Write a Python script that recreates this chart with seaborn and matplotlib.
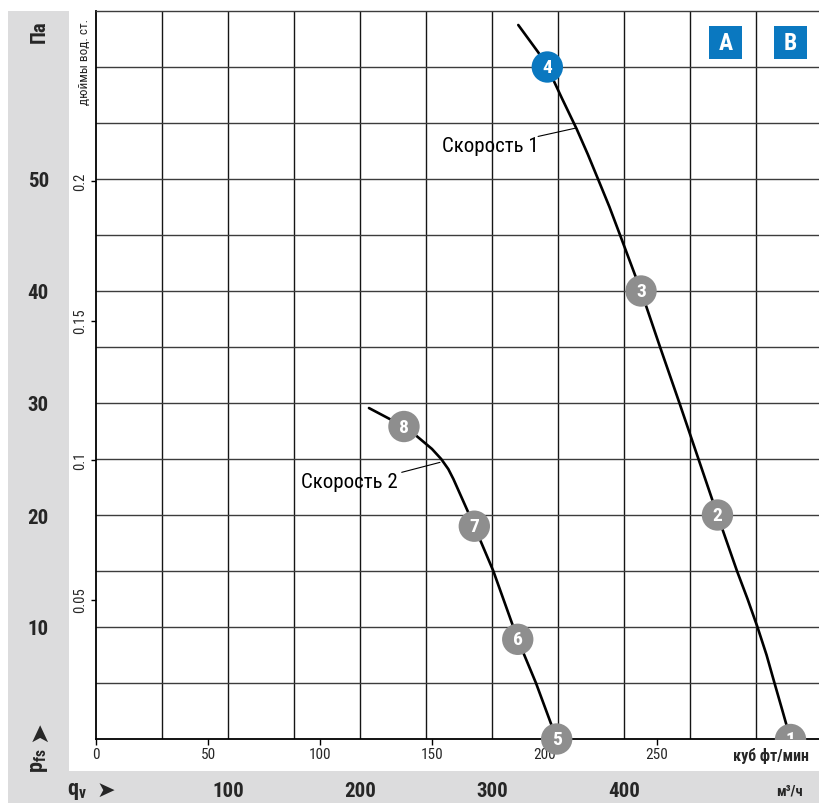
import matplotlib
matplotlib.use("Agg")
import numpy as np
import pandas as pd
import seaborn as sns
import matplotlib.pyplot as plt
from matplotlib import font_manager
from matplotlib.patches import Rectangle

# ---- data -------------------------------------------------------------
# flow in m³/h, static pressure in Pa
SPEED1_Q = [319.9, 335.1, 341.9, 353.0, 364.2, 372.6, 380.3, 389.0, 397.0,
            412.9, 427.3, 442.0, 456.4, 470.8, 485.6, 493.6, 501.1, 508.0,
            514.0, 520.1, 526.1]
SPEED1_P = [63.75, 61.3, 60.0, 57.2, 54.45, 52.2, 50.0, 47.5, 45.0,
            40.0, 35.0, 30.0, 25.0, 20.0, 15.0, 12.5, 10.0, 7.5,
            5.0, 2.5, 0.0]

SPEED2_Q = [206.8, 233.3, 242.9, 254.5, 261.5, 266.9, 270.8, 274.2, 281.0,
            286.6, 301.0, 319.5, 333.3, 349.0]
SPEED2_P = [29.55, 27.9, 27.05, 25.9, 25.0, 24.1, 23.2, 22.3, 20.5,
            19.0, 15.0, 8.9, 5.0, 0.0]

# numbered operating points
POINT_NO = [1, 2, 3, 4, 5, 6, 7, 8]
POINT_Q = [526.1, 470.8, 412.9, 341.9, 349.0, 319.5, 286.6, 233.3]
POINT_P = [0.0, 20.0, 40.0, 60.0, 0.0, 8.9, 19.0, 27.9]
POINT_KIND = ["grey", "grey", "grey", "blue", "grey", "grey", "grey", "grey"]

M3H_TICKS = [100, 200, 300, 400]
PA_TICKS = [10, 20, 30, 40, 50]
CFM_TICKS = [0, 50, 100, 150, 200, 250]
INWC_TICKS = [0.05, 0.1, 0.15, 0.2]
INWC_LABELS = ["0.05", "0.1", "0.15", "0.2"]

CURVE_LABELS = ["Скорость 1", "Скорость 2"]
CFM_TO_M3H = 1.699
PA_PER_INWC = 249.089

# ---- style ------------------------------------------------------------
sns.set_theme(style="white")
names = {f.name for f in font_manager.fontManager.ttflist}
base = next((n for n in ["Liberation Sans Narrow", "Roboto Condensed",
                         "Roboto", "DejaVu Sans"] if n in names), "DejaVu Sans")
plt.rcParams["font.family"] = [base, "DejaVu Sans"]
plt.rcParams["mathtext.fontset"] = "custom"
plt.rcParams["mathtext.rm"] = base
plt.rcParams["mathtext.bf"] = base + ":bold"

GREY_BAND = "#dcdcdd"
GREY_PT = "#8e8e8e"
BLUE = "#0a78c0"
GRID_V = "#151515"
GRID_H = "#3c3c3c"

W, H = 819, 804
fig = plt.figure(figsize=(W / 100, H / 100), dpi=100)
fig.patch.set_facecolor("white")


def fx(px):
    return px / W


def fy(py):
    return 1 - py / H


# grey scale bands
fig.add_artist(Rectangle((fx(8), fy(772)), (69 - 8) / W, (772 - 12) / H,
                         transform=fig.transFigure, facecolor=GREY_BAND,
                         edgecolor="none", zorder=0))
fig.add_artist(Rectangle((fx(8), 0), (W - 8) / W, 32 / H,
                         transform=fig.transFigure, facecolor=GREY_BAND,
                         edgecolor="none", zorder=0))

ax = fig.add_axes([fx(96), fy(740), (W - 96) / W, (740 - 12) / H])
ax.set_facecolor("white")
Q_MAX = (W - 96) / 1.32
ax.set_xlim(0, Q_MAX)
ax.set_ylim(0, 65)

# grid
ax.set_xticks(M3H_TICKS)
ax.set_xticks(np.arange(50, Q_MAX, 50), minor=True)
ax.set_yticks(PA_TICKS)
ax.set_yticks(np.arange(5, 65, 5), minor=True)
ax.grid(which="both", axis="x", color=GRID_V, lw=1.0)
ax.grid(which="both", axis="y", color=GRID_H, lw=1.0)
ax.set_axisbelow(True)
ax.tick_params(which="both", length=0)
ax.tick_params(axis="x", which="major", labelsize=15, pad=30)
ax.tick_params(axis="y", which="major", labelsize=15, pad=41.5)
for lbl in ax.get_xticklabels() + ax.get_yticklabels():
    lbl.set_fontweight("bold")
for lbl in ax.get_yticklabels():
    lbl.set_horizontalalignment("center")

for side in ["left", "bottom"]:
    ax.spines[side].set_color("black")
    ax.spines[side].set_linewidth(1.3)
ax.spines["top"].set_color(GRID_H)
ax.spines["top"].set_linewidth(1.0)
ax.spines["right"].set_visible(False)

# secondary scales: cfm and inches of water
sx = ax.secondary_xaxis("bottom", functions=(lambda q: q / CFM_TO_M3H,
                                             lambda c: c * CFM_TO_M3H))
sx.set_xticks(CFM_TICKS)
sx.set_xticklabels([str(c) for c in CFM_TICKS])
sx.tick_params(length=4.3, width=1.0, color="black", pad=1.5, labelsize=11)
sx.spines["bottom"].set_visible(False)

sy = ax.secondary_yaxis("left", functions=(lambda p: p / PA_PER_INWC,
                                           lambda i: i * PA_PER_INWC))
sy.set_yticks(INWC_TICKS)
sy.set_yticklabels(INWC_LABELS, rotation=90, va="center")
sy.tick_params(length=3.6, width=1.0, color="black", pad=3, labelsize=10.5)
sy.spines["left"].set_visible(False)

# fan curves
s1 = pd.DataFrame({"q": SPEED1_Q, "p": SPEED1_P})
s2 = pd.DataFrame({"q": SPEED2_Q, "p": SPEED2_P})
for df in (s1, s2):
    line_ax = sns.lineplot(data=df, x="q", y="p", sort=False, estimator=None,
                           color="black", lw=1.9, ax=ax, zorder=5)
    line_ax.lines[-1].set_solid_joinstyle("round")

# operating points
pts = pd.DataFrame({"n": POINT_NO, "q": POINT_Q, "p": POINT_P,
                    "kind": POINT_KIND})
pal = {"grey": GREY_PT, "blue": BLUE}
sns.scatterplot(data=pts[pts.n != 1], x="q", y="p", hue="kind", palette=pal,
                s=510, linewidth=0, legend=False, ax=ax, zorder=10,
                clip_on=False)
sns.scatterplot(data=pts[pts.n == 1], x="q", y="p", hue="kind", palette=pal,
                s=510, linewidth=0, legend=False, ax=ax, zorder=10,
                clip_on=True)
for n, q, p in zip(pts.n, pts.q, pts.p):
    ax.text(q, p, str(n), ha="center", va="center", color="white",
            fontsize=14, fontweight="bold", zorder=11, clip_on=(n == 1))
ax.set_xlabel("")
ax.set_ylabel("")

# curve labels with leader lines
ax.text(298.5, 52.95, CURVE_LABELS[0], ha="center", va="center",
        fontsize=15, color="black", zorder=6)
ax.annotate("", xy=(363.6, 54.55), xytext=(334.9, 53.8),
            arrowprops=dict(arrowstyle="-", lw=0.8, color="black",
                            shrinkA=0, shrinkB=0), zorder=6)
ax.text(192.0, 22.95, CURVE_LABELS[1], ha="center", va="center",
        fontsize=15, color="black", zorder=6)
ax.annotate("", xy=(260.6, 24.7), xytext=(231.6, 23.81),
            arrowprops=dict(arrowstyle="-", lw=0.8, color="black",
                            shrinkA=0, shrinkB=0), zorder=6)

# A / B badges
for letter, cx in (("A", 725.5), ("B", 790.5)):
    fig.add_artist(Rectangle((fx(cx - 16.5), fy(60)), 33 / W, 33 / H,
                             transform=fig.transFigure, facecolor=BLUE,
                             edgecolor="none", zorder=20))
    fig.text(fx(cx), fy(44), letter, ha="center", va="center",
             color="white", fontsize=17, fontweight="bold", zorder=21)

# unit and axis texts
fig.text(fx(39.5), fy(31.5), "Па", rotation=90, ha="center", va="center",
         fontsize=15, fontweight="bold")
fig.text(fx(84), fy(62), "дюймы вод. ст.", rotation=90, ha="center",
         va="center", fontsize=9.5)
fig.text(fx(39), fy(731), "➤", rotation=90, ha="center", va="center",
         fontsize=18, family="DejaVu Sans")
fig.text(fx(39), fy(761), r"p$_{\mathregular{fs}}$", rotation=90,
         ha="center", va="center", fontsize=16, fontweight="bold")
fig.text(fx(77), fy(791), r"q$_{\mathregular{v}}$", ha="center",
         va="center", fontsize=16, fontweight="bold")
fig.text(fx(106), fy(791), "➤", ha="center", va="center", fontsize=16,
         family="DejaVu Sans")
fig.text(fx(771), fy(756), "куб фт/мин", ha="center", va="center",
         fontsize=11.5, fontweight="bold")
fig.text(fx(789), fy(792), "м³/ч", ha="center", va="center",
         fontsize=10.5, fontweight="bold")

fig.savefig("out.png", dpi=100)
